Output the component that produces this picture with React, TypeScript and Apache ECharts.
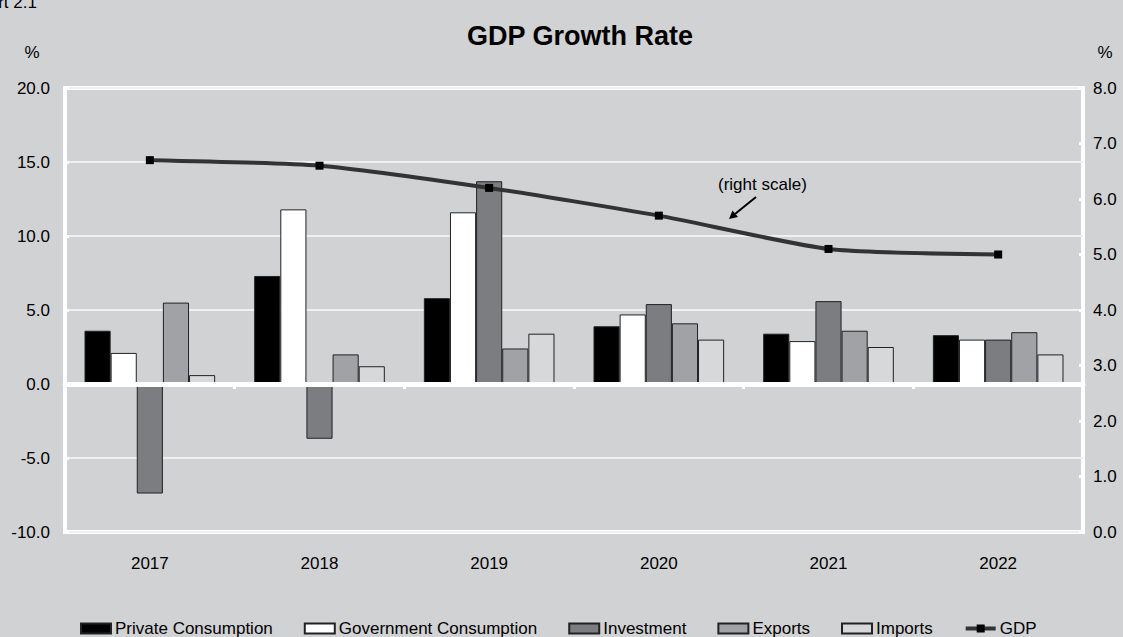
import React, { useEffect, useRef } from "react";
import * as echarts from "echarts";

const years = ["2017", "2018", "2019", "2020", "2021", "2022"];
const privateConsumption = [3.6, 7.3, 5.8, 3.9, 3.4, 3.3];
const governmentConsumption = [2.1, 11.8, 11.6, 4.7, 2.9, 3.0];
const investment = [-7.4, -3.7, 13.7, 5.4, 5.6, 3.0];
const exportsData = [5.5, 2.0, 2.4, 4.1, 3.6, 3.5];
const importsData = [0.6, 1.2, 3.4, 3.0, 2.5, 2.0];
const gdp = [6.7, 6.6, 6.2, 5.7, 5.1, 5.0];

const FONT = 'Arial, "Liberation Sans", sans-serif';
const BG = "#d1d2d4";

export default function App() {
  const ref = useRef<HTMLDivElement>(null);
  useEffect(() => {
    if (!ref.current) return;
    const chart = echarts.init(ref.current, undefined, { renderer: "svg" });
    const barStyle = (color: string) => ({
      color,
      borderColor: "#222",
      borderWidth: 1,
    });
    const barSeries = (name: string, data: number[], color: string) => ({
      name,
      type: "bar",
      data,
      xAxisIndex: 0,
      yAxisIndex: 0,
      barGap: "0%",
      barCategoryGap: "23%",
      itemStyle: barStyle(color),
      z: 2,
    });
    chart.setOption({
      animation: false,
      backgroundColor: BG,
      textStyle: { fontFamily: FONT },
      title: {
        text: "GDP Growth Rate",
        left: 462,
        top: 17,
        textStyle: { fontFamily: FONT, fontSize: 27, fontWeight: "bold", color: "#000" },
      },
      grid: {
        left: 65,
        top: 88,
        width: 1018,
        height: 444,
        show: true,
        borderColor: "#fff",
        borderWidth: 4,
        backgroundColor: "transparent",
      },
      legend: {
        left: 80,
        top: 620,
        padding: 0,
        itemGap: 31,
        itemWidth: 30,
        itemHeight: 10,
        textStyle: { fontFamily: FONT, fontSize: 17, color: "#000", padding: [0, 0, 0, -1] },
        data: [
          { name: "Private Consumption", icon: "rect" },
          { name: "Government Consumption", icon: "rect" },
          { name: "Investment", icon: "rect" },
          { name: "Exports", icon: "rect" },
          { name: "Imports", icon: "rect" },
          {
            name: "GDP",
            itemStyle: { color: "#000" },
            lineStyle: { color: "#333", width: 4 },
          },
        ],
      },
      xAxis: [
        {
          type: "category",
          data: years,
          position: "bottom",
          axisLine: { show: false, onZero: false },
          axisTick: { show: false },
          axisLabel: { fontFamily: FONT, fontSize: 17, color: "#000", margin: 23 },
        },
        {
          type: "category",
          data: years,
          position: "bottom",
          z: 10,
          axisLine: { show: true, onZero: true, onZeroAxisIndex: 0, lineStyle: { color: "#fff", width: 5 } },
          axisTick: { show: true, alignWithLabel: false, length: 5, lineStyle: { color: "#fff", width: 3 } },
          axisLabel: { show: false },
        },
      ],
      yAxis: [
        {
          type: "value",
          min: -10,
          max: 20,
          interval: 5,
          position: "left",
          name: "%",
          nameLocation: "end",
          nameGap: 27,
          nameTextStyle: { fontFamily: FONT, fontSize: 17, color: "#000", align: "center", padding: [0, 0, 0, -66] },
          axisLine: { show: false },
          axisTick: { show: true, inside: true, length: 4, lineStyle: { color: "#fff", width: 3 } },
          axisLabel: { fontFamily: FONT, fontSize: 17, color: "#000", margin: 15, formatter: (v: number) => v.toFixed(1) },
          splitLine: { show: true, lineStyle: { color: "#f0f0f0", width: 2 } },
        },
        {
          type: "value",
          min: 0,
          max: 8,
          interval: 1,
          position: "right",
          name: "%",
          nameLocation: "end",
          nameGap: 27,
          nameTextStyle: { fontFamily: FONT, fontSize: 17, color: "#000", align: "center", padding: [0, 0, 0, 44] },
          axisLine: { show: false },
          axisTick: { show: true, inside: true, length: 4, lineStyle: { color: "#fff", width: 3 } },
          axisLabel: { fontFamily: FONT, fontSize: 17, color: "#000", margin: 10, formatter: (v: number) => v.toFixed(1) },
          splitLine: { show: false },
        },
      ],
      series: [
        barSeries("Private Consumption", privateConsumption, "#000000"),
        barSeries("Government Consumption", governmentConsumption, "#ffffff"),
        barSeries("Investment", investment, "#7c7d81"),
        barSeries("Exports", exportsData, "#a0a2a6"),
        barSeries("Imports", importsData, "#d7d8da"),
        {
          name: "GDP",
          type: "line",
          data: gdp,
          xAxisIndex: 0,
          yAxisIndex: 1,
          smooth: 0.2,
          symbol: "rect",
          symbolSize: 8,
          lineStyle: { color: "#333333", width: 4 },
          itemStyle: { color: "#000000" },
          z: 12,
        },
      ],
      graphic: [
        {
          type: "text",
          left: -33,
          top: -6,
          style: { text: "Chart 2.1", fontFamily: FONT, fontSize: 17, fill: "#000" },
        },
        {
          type: "text",
          left: 718,
          top: 176,
          style: { text: "(right scale)", fontFamily: FONT, fontSize: 17, fill: "#000" },
        },
        {
          type: "line",
          shape: { x1: 756, y1: 197, x2: 735, y2: 214 },
          style: { stroke: "#000", lineWidth: 2 },
          z: 20,
        },
        {
          type: "polygon",
          shape: { points: [[729, 219], [738, 217], [732.5, 210.5]] },
          style: { fill: "#000" },
          z: 20,
        },
      ],
    });
    return () => chart.dispose();
  }, []);
  return (
    <div
      ref={ref}
      style={{ position: "fixed", left: 0, top: 0, width: 1123, height: 637 }}
    />
  );
}
